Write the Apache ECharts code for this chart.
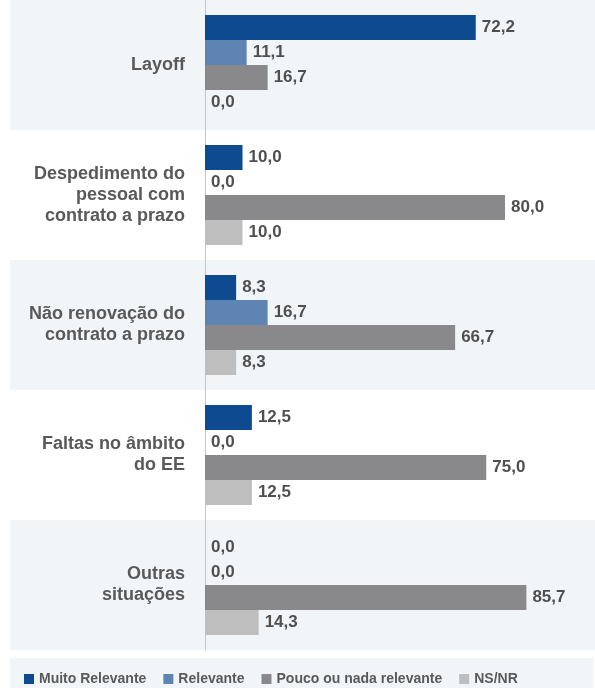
<!DOCTYPE html>
<html>
<head>
<meta charset="utf-8">
<script src="https://cdn.jsdelivr.net/npm/echarts@6/dist/echarts.min.js"></script>
<style>
  html, body { margin: 0; padding: 0; background: #fff; }
  #main { width: 595px; height: 688px; }
</style>
</head>
<body>
<div id="main"></div>
<script>
var categories = ['Layoff', 'Despedimento do\npessoal com\ncontrato a prazo', 'Não renovação do\ncontrato a prazo', 'Faltas no âmbito\ndo EE', 'Outras\nsituações'];
var seriesNames = ['Muito Relevante', 'Relevante', 'Pouco ou nada relevante', 'NS/NR'];
var muitoRelevante = [72.2, 10.0, 8.3, 12.5, 0.0];
var relevante = [11.1, 0.0, 16.7, 0.0, 0.0];
var poucoRelevante = [16.7, 80.0, 66.7, 75.0, 85.7];
var nsnr = [0.0, 10.0, 8.3, 12.5, 14.3];
var colors = ['#0d4a8f', '#5d84b3', '#89898b', '#bebebf'];

function makeSeries(name, data) {
    return {
        name: name,
        type: 'bar',
        data: data,
        barWidth: 25,
        barGap: '0%',
        label: {
            show: true,
            position: 'right',
            distance: 6,
            color: '#4f4f4f',
            fontSize: 17,
            fontWeight: 'bold',
            fontFamily: 'Liberation Sans',
            formatter: function (p) { return p.value.toFixed(1).replace('.', ','); }
        }
    };
}

// grid spans the label area too so the bands run full width;
// the negative part of the value axis is left empty and the category axis is shifted onto zero
var option = {
    animation: false,
    color: colors,
    grid: { left: 10, right: 0, top: 0, bottom: 38, containLabel: false, outerBoundsMode: 'none' },
    xAxis: {
        type: 'value',
        min: -52,
        max: 104,
        show: false,
        splitLine: { show: false }
    },
    yAxis: {
        type: 'category',
        inverse: true,
        data: categories,
        offset: -195,
        axisLine: { show: true, onZero: false, lineStyle: { color: '#c4c4c4', width: 1 } },
        axisTick: { show: false },
        axisLabel: {
            margin: 20,
            color: '#595959',
            fontSize: 18,
            fontWeight: 'bold',
            fontFamily: 'Liberation Sans',
            lineHeight: 21
        },
        splitArea: { show: true, areaStyle: { color: ['#f2f5f8', '#ffffff'] } }
    },
    legend: {
        data: seriesNames,
        left: 10,
        bottom: 0,
        icon: 'rect',
        itemWidth: 10,
        itemHeight: 10,
        itemGap: 17,
        backgroundColor: '#f2f5f8',
        padding: [14, 76, 2, 14],
        textStyle: { color: '#595959', fontSize: 14, fontWeight: 'bold', fontFamily: 'Liberation Sans' }
    },
    series: [
        makeSeries(seriesNames[0], muitoRelevante),
        makeSeries(seriesNames[1], relevante),
        makeSeries(seriesNames[2], poucoRelevante),
        makeSeries(seriesNames[3], nsnr)
    ]
};

var myChart = echarts.init(document.getElementById('main'));
myChart.setOption(option);
</script>
</body>
</html>
